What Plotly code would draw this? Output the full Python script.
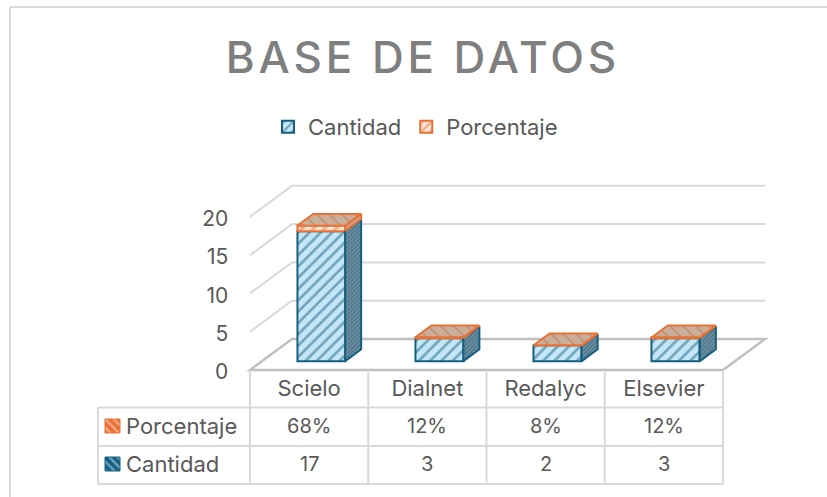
import plotly.graph_objects as go

# ---- data ----
categories = ["Scielo", "Dialnet", "Redalyc", "Elsevier"]
series_names = ["Cantidad", "Porcentaje"]
cantidad = [17, 3, 2, 3]
porcentaje = [0.68, 0.12, 0.08, 0.12]
y_ticks = [0, 5, 10, 15, 20]
title_text = "BASE DE DATOS"

# ---- page / projection geometry (pixels) ----
W, H = 827, 497
CAT_PX, UNIT_PX = 118.25, 7.66
X0_PX, Y0_PX = 250, 370
DX = 42 / CAT_PX        # depth shift, category units
DY = 31 / UNIT_PX       # depth shift, value units
Z0, Z1 = 0.286, 0.667   # bar depth span
BAR_W = 48 / CAT_PX
N = len(categories)

XR = [-0.03, N + DX + 0.03]
YR = [-0.45, 20 + DY + 0.45]
dom_x = [(X0_PX + XR[0] * CAT_PX) / W, (X0_PX + XR[1] * CAT_PX) / W]
dom_y = [(H - Y0_PX + YR[0] * UNIT_PX) / H, (H - Y0_PX + YR[1] * UNIT_PX) / H]

GREY_TXT = "#595959"
FONT = "Inter"
BLUE, ORANGE = "#156082", "#E97132"


def spaced(t, px):
    return f'<span style="letter-spacing:{px}px">{t}</span>'


def proj(x, v, z):
    return x + z * DX, v + z * DY


def polys(faces):
    xs, ys = [], []
    for f in faces:
        for p in f + [f[0]]:
            xs.append(p[0])
            ys.append(p[1])
        xs.append(None)
        ys.append(None)
    return xs, ys


def data_path(pts, closed=False):
    d = "M" + " L".join(f"{a:.4f},{b:.4f}" for a, b in pts)
    return d + (" Z" if closed else "")


shapes = []

# walls and floor sit under the bars
for t in y_ticks:
    if t == 0:
        continue
    shapes.append(dict(type="path", xref="x", yref="y", layer="below",
                       path=data_path([proj(0, t, 0), proj(0, t, 1), proj(N, t, 1)]),
                       line=dict(color="#D9D9D9", width=2)))
shapes.append(dict(type="path", xref="x", yref="y", layer="below",
                   path=data_path([proj(0, 0, 0), proj(N, 0, 0), proj(N, 0, 1), proj(0, 0, 1)], closed=True),
                   line=dict(color="#BFBFBF", width=2.5)))

fig = go.Figure()

centres = [i + 0.5 + Z0 * DX for i in range(N)]
base0 = [Z0 * DY] * N
tops = [b + c for b, c in zip(base0, cantidad)]

# front faces as real bars
fig.add_trace(go.Bar(x=centres, y=cantidad, base=base0, width=BAR_W, name=series_names[0],
                     marker=dict(color="#C4E6F6", line=dict(color=BLUE, width=2),
                                 pattern=dict(shape="/", bgcolor="#C4E6F6", fgcolor=BLUE, size=8, solidity=0.32)),
                     showlegend=True))
fig.add_trace(go.Bar(x=centres, y=porcentaje, base=tops, width=BAR_W, name=series_names[1],
                     marker=dict(color="#FBE3D6", line=dict(color=ORANGE, width=2),
                                 pattern=dict(shape="/", bgcolor="#FBE3D6", fgcolor=ORANGE, size=8, solidity=0.35)),
                     showlegend=True))


def box_faces(i, lo, hi):
    x1 = i + 0.5 + BAR_W / 2
    x0 = i + 0.5 - BAR_W / 2
    side = [proj(x1, lo, Z0), proj(x1, lo, Z1), proj(x1, hi, Z1), proj(x1, hi, Z0)]
    top = [proj(x0, hi, Z0), proj(x1, hi, Z0), proj(x1, hi, Z1), proj(x0, hi, Z1)]
    return side, top


blue_side, orange_side, orange_top = [], [], []
for i in range(N):
    s, _ = box_faces(i, 0, cantidad[i])
    blue_side.append(s)
    s2, t2 = box_faces(i, cantidad[i], cantidad[i] + porcentaje[i])
    orange_side.append(s2)
    orange_top.append(t2)

xs, ys = polys(blue_side)
fig.add_trace(go.Scatter(x=xs, y=ys, mode="lines", fill="toself", line=dict(color=BLUE, width=2),
                         fillpattern=dict(shape="/", bgcolor="#6F8E9E", fgcolor="#1B5A78", size=3, solidity=0.4),
                         hoverinfo="skip", showlegend=False))
xs, ys = polys(orange_side)
fig.add_trace(go.Scatter(x=xs, y=ys, mode="lines", fill="toself", line=dict(color=ORANGE, width=2),
                         fillcolor="#C9A58F", hoverinfo="skip", showlegend=False))
xs, ys = polys(orange_top)
fig.add_trace(go.Scatter(x=xs, y=ys, mode="lines", fill="toself", line=dict(color=ORANGE, width=2),
                         fillpattern=dict(shape="\\", bgcolor="#CBAE9A", fgcolor="#B0653A", size=9, solidity=0.15),
                         hoverinfo="skip", showlegend=False))

# data-table keys on a full-page pixel axis
ROWS = [(426, series_names[1], porcentaje, ORANGE, "#FBE3D6"), (464, series_names[0], cantidad, BLUE, "#C4E6F6")]
for yc, name, vals, col, lt in ROWS:
    xk = [105, 120, 120, 105, 105]
    yk = [yc - 7, yc - 7, yc + 7, yc + 7, yc - 7]
    fig.add_trace(go.Scatter(x=xk, y=yk, xaxis="x2", yaxis="y2", mode="lines", fill="toself",
                             line=dict(color=col, width=1),
                             fillpattern=dict(shape="\\", bgcolor=col, fgcolor=lt, size=6, solidity=0.4),
                             hoverinfo="skip", showlegend=False))


def pline(x0, y0, x1, y1, color="#D9D9D9", width=2):
    shapes.append(dict(type="line", xref="paper", yref="paper", x0=x0 / W, x1=x1 / W,
                       y0=1 - y0 / H, y1=1 - y1 / H, line=dict(color=color, width=width)))


# chart frame
pline(10, 7, W, 7)
pline(10, 7, 10, H)
# table
for k in range(N + 1):
    xp = X0_PX + k * CAT_PX
    pline(xp, Y0_PX, xp, 484)
for yp in (407.5, 446, 484):
    pline(98, yp, X0_PX + N * CAT_PX, yp)
pline(98, 407.5, 98, 484)

annotations = []
for yc, name, vals, col, lt in ROWS:
    annotations.append(dict(text=name, xref="paper", yref="paper", x=124 / W, y=1 - yc / H,
                            xanchor="left", yanchor="middle", showarrow=False,
                            font=dict(family=FONT, size=22, color=GREY_TXT)))
    for k, v in enumerate(vals):
        label = f"{round(v * 100)}%" if name == series_names[1] else str(v)
        annotations.append(dict(text=label, xref="paper", yref="paper",
                                x=(X0_PX + (k + 0.5) * CAT_PX) / W, y=1 - yc / H,
                                xanchor="center", yanchor="middle", showarrow=False,
                                font=dict(family=FONT, size=20, color=GREY_TXT)))

fig.update_layout(
    width=W, height=H, margin=dict(l=0, r=0, t=0, b=0, pad=0, autoexpand=False),
    autosize=False,
    paper_bgcolor="white", plot_bgcolor="rgba(0,0,0,0)",
    barmode="overlay", bargap=0,
    font=dict(family=FONT, size=20, color=GREY_TXT),
    title=dict(text=spaced(title_text, 3.9), x=423 / W, xanchor="center", y=1 - 58 / H, yanchor="middle",
               font=dict(family=FONT, size=44, weight=500, color="#7F7F7F")),
    xaxis=dict(domain=dom_x, range=XR, showgrid=False, zeroline=False, showline=False,
               tickmode="array", tickvals=[i + 0.5 for i in range(N)], ticktext=categories,
               ticks="", ticklen=0, fixedrange=True,
               tickfont=dict(family=FONT, size=22, color=GREY_TXT)),
    yaxis=dict(domain=dom_y, range=YR, showgrid=False, zeroline=False, showline=False,
               tickmode="array", tickvals=y_ticks, ticks="outside", ticklen=13,
               tickcolor="rgba(0,0,0,0)", fixedrange=True, ticklabelshift=2,
               tickfont=dict(family=FONT, size=21, color=GREY_TXT)),
    xaxis2=dict(domain=[0, 1], range=[0, W], visible=False, anchor="y2", fixedrange=True),
    yaxis2=dict(domain=[0, 1], range=[H, 0], visible=False, anchor="x2", fixedrange=True),
    legend=dict(orientation="h", x=268 / W, y=1 - 127 / H, xanchor="left", yanchor="middle",
                traceorder="normal",
                font=dict(family=FONT, size=22, color=GREY_TXT), bgcolor="rgba(0,0,0,0)"),
    shapes=shapes,
    annotations=annotations,
)

fig.write_html("out.html", config=dict(displayModeBar=False),
               post_script="document.body.style.margin='0';window.dispatchEvent(new Event('resize'));")
